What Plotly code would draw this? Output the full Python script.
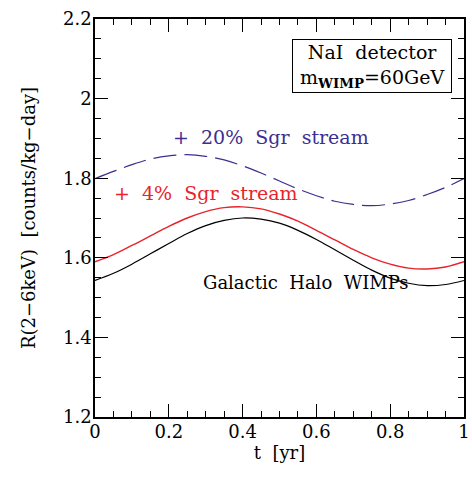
import plotly.graph_objects as go

t = [0.0, 0.05, 0.1, 0.15, 0.2, 0.25, 0.3, 0.35, 0.4, 0.45, 0.5,
     0.55, 0.6, 0.65, 0.7, 0.75, 0.8, 0.85, 0.9, 0.95, 1.0]

halo = [1.543, 1.561, 1.584, 1.610, 1.636, 1.661, 1.681, 1.694, 1.700, 1.697, 1.687,
        1.669, 1.646, 1.620, 1.594, 1.569, 1.549, 1.536, 1.530, 1.533, 1.543]

sgr4 = [1.590, 1.608, 1.631, 1.655, 1.679, 1.700, 1.716, 1.726, 1.728, 1.723, 1.710,
        1.692, 1.669, 1.645, 1.621, 1.600, 1.584, 1.574, 1.572, 1.577, 1.590]

sgr20 = [1.799, 1.817, 1.834, 1.848, 1.856, 1.859, 1.855, 1.846, 1.831, 1.813, 1.793,
         1.773, 1.756, 1.742, 1.734, 1.731, 1.735, 1.744, 1.759, 1.777, 1.799]

xticks = [0, 0.2, 0.4, 0.6, 0.8, 1]
xticklabels = ["0", "0.2", "0.4", "0.6", "0.8", "1"]
yticks = [1.2, 1.4, 1.6, 1.8, 2.0, 2.2]
yticklabels = ["1.2", "1.4", "1.6", "1.8", "2", "2.2"]

FONT = "DejaVu Serif"
BLUE = "#3d2f8f"
RED = "#e8232b"

fig = go.Figure()
fig.add_trace(go.Scatter(x=t, y=halo, mode="lines", line=dict(color="black", width=1.2, shape="spline")))
fig.add_trace(go.Scatter(x=t, y=sgr4, mode="lines", line=dict(color=RED, width=1.4, shape="spline")))
fig.add_trace(go.Scatter(x=t, y=sgr20, mode="lines", line=dict(color=BLUE, width=1.2, shape="spline", dash="23px,8px")))

axis_common = dict(
    showline=True, linecolor="black", linewidth=1.5, mirror="allticks",
    ticks="inside", ticklen=13, tickwidth=1, tickcolor="black",
    showgrid=False, zeroline=False, ticklabeloverflow="allow",
    tickfont=dict(family=FONT, size=18, color="black"),
    minor=dict(ticks="inside", ticklen=6, tickwidth=1, tickcolor="black", dtick=0.05, showgrid=False),
)

fig.update_xaxes(range=[0, 1], tickvals=xticks, ticktext=xticklabels, ticklabelstandoff=-2,
                 title=dict(text="t  [yr]", font=dict(family=FONT, size=18, color="black"), standoff=3),
                 **axis_common)
fig.update_yaxes(range=[1.2, 2.2], tickvals=yticks, ticktext=yticklabels, ticklabelstandoff=-2,
                 title=dict(text="R(2\u22126keV)  [counts/kg\u2212day]", font=dict(family=FONT, size=18, color="black"), standoff=23),
                 **axis_common)

fig.add_annotation(x=0.477, y=1.904, xref="x", yref="y", text="+  20%  Sgr  stream",
                   showarrow=False, font=dict(family=FONT, size=19, color=BLUE))
fig.add_annotation(x=0.045, y=1.763, xref="x", yref="y", text="+  4%  Sgr  stream", xanchor="left",
                   showarrow=False, font=dict(family=FONT, size=19, color=RED))
fig.add_annotation(x=0.572, y=1.537, xref="x", yref="y", text="Galactic  Halo  WIMPs",
                   showarrow=False, font=dict(family=FONT, size=18, color="black"))
fig.add_annotation(x=0.752, y=2.081, xref="x", yref="y",
                   text="&nbsp;NaI  detector&nbsp;<br>&nbsp;m<sub><b>WIMP</b></sub>=60GeV&nbsp;",
                   showarrow=False, font=dict(family=FONT, size=19, color="black"),
                   bordercolor="black", borderwidth=1, borderpad=1, bgcolor="white")

fig.update_layout(
    width=472, height=479,
    margin=dict(l=95, r=2, t=19, b=62),
    paper_bgcolor="white", plot_bgcolor="white",
    showlegend=False,
)

fig.write_html(
    "out.html",
    config={"displayModeBar": False},
    post_script="document.body.style.margin='0';document.body.style.overflow='hidden';",
)
